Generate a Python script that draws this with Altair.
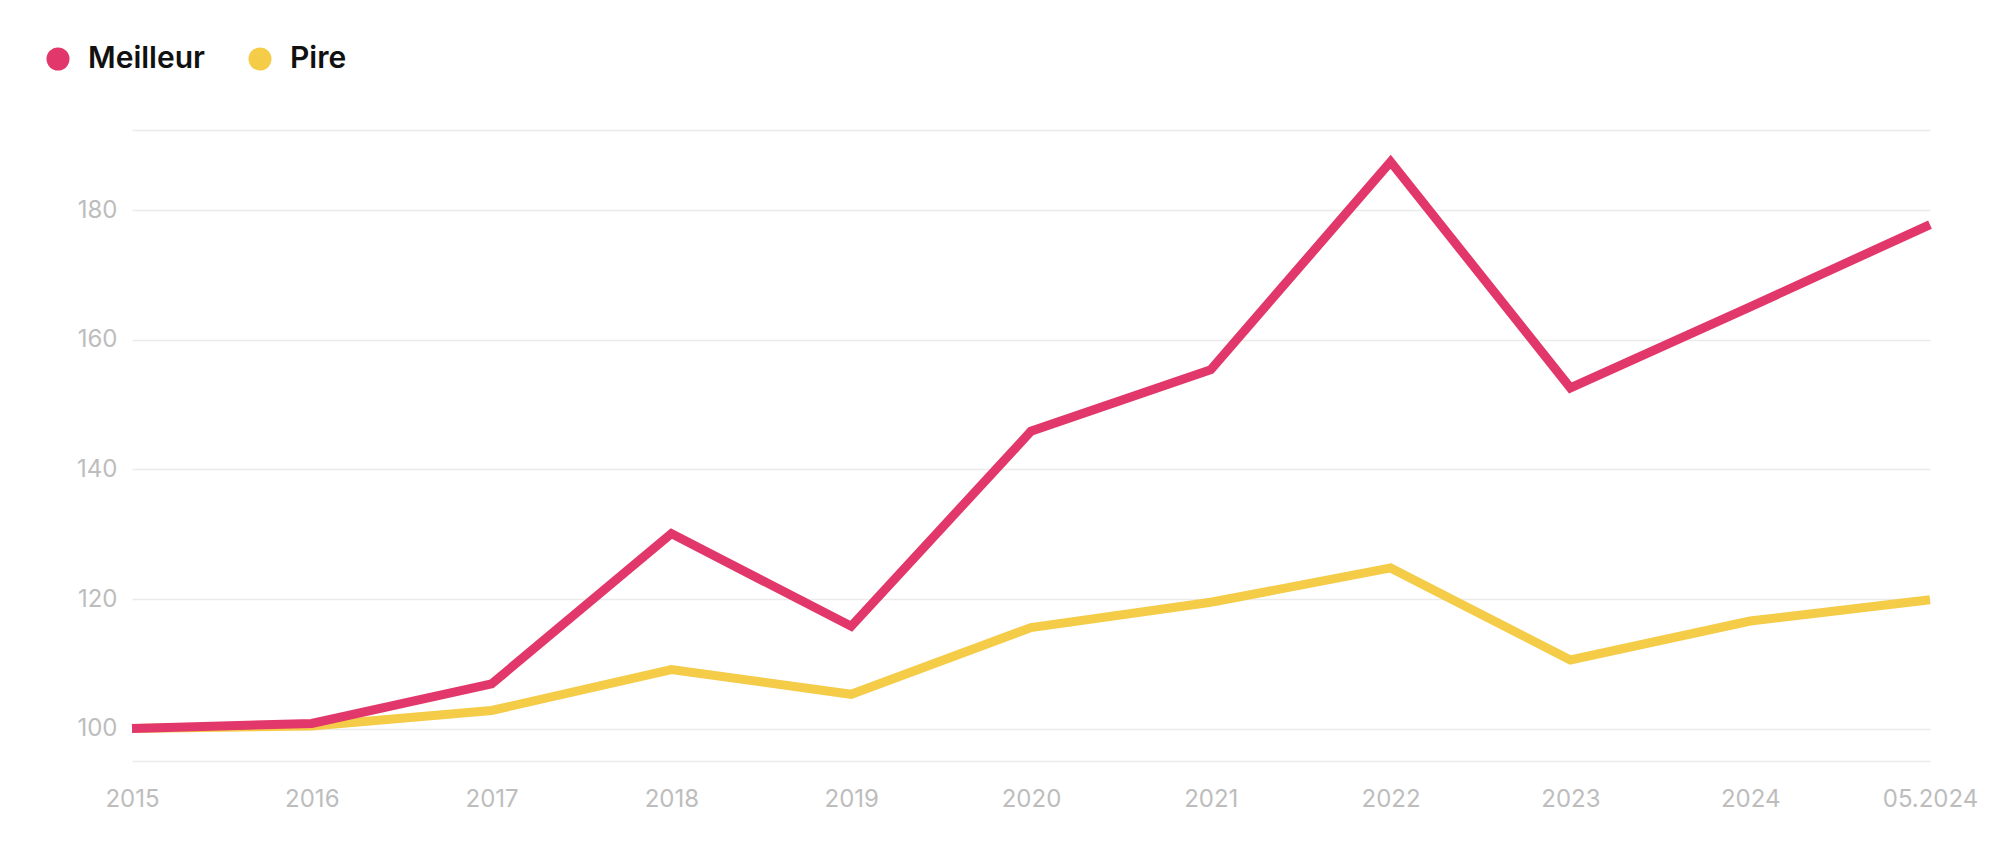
import altair as alt
import pandas as pd

periods = ["2015", "2016", "2017", "2018", "2019", "2020", "2021", "2022", "2023", "2024", "05.2024"]
meilleur = [100.0, 100.8, 106.9, 130.1, 115.8, 145.9, 155.4, 187.5, 152.6, 165.1, 177.8]
pire = [100.0, 100.4, 102.8, 109.1, 105.3, 115.6, 119.5, 124.8, 110.6, 116.6, 119.9]
series = ["Meilleur", "Pire"]
colors = ["#E2376A", "#F4CC48"]
y_ticks = [95, 100, 120, 140, 160, 180, 192.4]

rows = []
for s, vals in (("Pire", pire), ("Meilleur", meilleur)):
    for p, v in zip(periods, vals):
        rows.append({"periode": p, "valeur": v, "serie": s})
df = pd.DataFrame(rows)

color = alt.Color(
    "serie:N",
    scale=alt.Scale(domain=series, range=colors),
    legend=alt.Legend(
        title=None,
        orient="none",
        direction="horizontal",
        legendX=-89,
        legendY=-86,
        symbolType="circle",
        symbolSize=529,
        symbolStrokeWidth=0,
        symbolOpacity=1,
        labelFont="Inter",
        labelFontSize=30,
        labelFontWeight=600,
        labelColor="#111111",
        labelOffset=15,
        columnPadding=40,
        padding=0,
    ),
)

x = alt.X(
    "periode:O",
    sort=periods,
    scale=alt.Scale(type="point", padding=0),
    axis=alt.Axis(
        title=None, labelAngle=0, ticks=False, domain=False, grid=False,
        labelFont="Inter", labelFontSize=24, labelColor="#BDBDBD", labelPadding=26,
    ),
)
y = alt.Y(
    "valeur:Q",
    scale=alt.Scale(domain=[95, 192.4], nice=False, zero=False),
    axis=alt.Axis(
        title=None, values=y_ticks, ticks=False, domain=False,
        gridColor="#EBEBEB", gridWidth=1.5,
        labelExpr="datum.value % 20 == 0 ? datum.label : ''",
        labelFont="Inter", labelFontSize=24, labelColor="#BDBDBD", labelPadding=15,
    ),
)

legend_layer = alt.Chart(df).mark_circle(opacity=1).encode(x=x, y=y, color=color).transform_filter("false")
base = alt.Chart(df).mark_line(strokeWidth=9, strokeJoin="miter").encode(x=x, y=y, color=color)
layer_pire = base.transform_filter(alt.datum.serie == "Pire")
layer_best = base.transform_filter(alt.datum.serie == "Meilleur")

chart = alt.layer(legend_layer, layer_pire, layer_best).properties(
    width=1798,
    height=631,
    background="white",
    autosize=alt.AutoSizeParams(type="none"),
    padding={"left": 124, "top": 122, "right": 60, "bottom": 75},
).configure_view(strokeWidth=0, stroke="transparent")

chart.save("out.html", embed_options={"renderer": "svg", "actions": False})
